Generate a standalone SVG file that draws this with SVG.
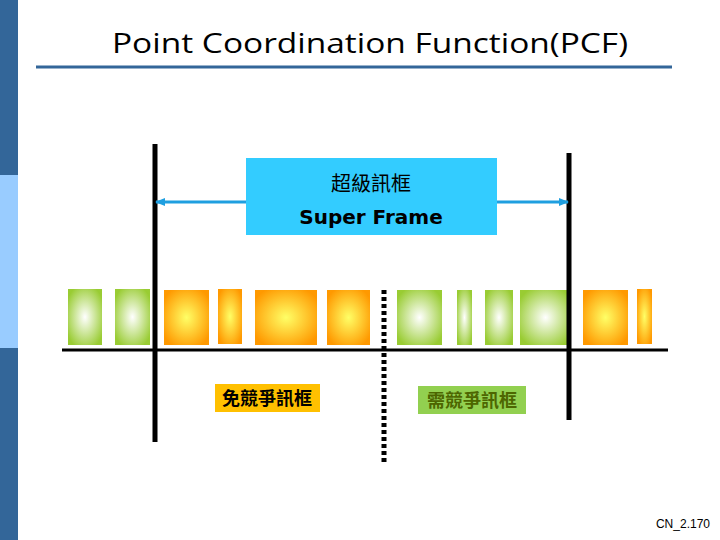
<svg xmlns="http://www.w3.org/2000/svg" width="720" height="540" viewBox="0 0 720 540">
<defs>
<radialGradient id="go" cx="0.5" cy="0.5" r="0.6"><stop offset="0" stop-color="#ffff66"/><stop offset="1" stop-color="#ff9900"/></radialGradient>
<radialGradient id="gg" cx="0.5" cy="0.5" r="0.6"><stop offset="0" stop-color="#ffffff"/><stop offset="1" stop-color="#99cc33"/></radialGradient>
<marker id="ah" markerWidth="10" markerHeight="8" refX="9" refY="4" orient="auto" markerUnits="userSpaceOnUse"><path d="M0,0 L10,4 L0,8 Z" fill="#1f9fe0"/></marker>
<style>
.o{fill:url(#go)} .g{fill:url(#gg)}
.cjk{font-family:"Liberation Sans","Noto Sans CJK TC",sans-serif}
</style>
</defs>
<rect width="720" height="540" fill="#fff"/>
<rect x="0" y="0" width="18" height="175" fill="#336699"/>
<rect x="0" y="175" width="18" height="173" fill="#99ccff"/>
<rect x="0" y="348" width="18" height="192" fill="#336699"/>
<text x="370" y="53" text-anchor="middle" font-family="Open Sans, sans-serif" font-weight="500" font-size="28" textLength="516" lengthAdjust="spacingAndGlyphs">Point Coordination Function(PCF)</text>
<line x1="36" y1="67" x2="672" y2="67" stroke="#336699" stroke-width="3"/>
<g id="frames">
<rect class="g" x="68" y="289" width="34" height="56"/>
<rect class="g" x="115" y="289" width="35" height="56"/>
<rect class="o" x="164" y="290" width="45" height="55"/>
<rect class="o" x="218" y="289" width="24" height="55"/>
<rect class="o" x="255" y="290" width="62" height="55"/>
<rect class="o" x="327" y="290" width="43" height="55"/>
<rect class="g" x="397" y="290" width="45" height="55"/>
<rect class="g" x="457" y="290" width="15" height="55"/>
<rect class="g" x="485" y="290" width="28" height="55"/>
<rect class="g" x="520" y="290" width="51" height="55"/>
<rect class="o" x="583" y="290" width="45" height="55"/>
<rect class="o" x="637" y="289" width="15" height="55"/>
</g>
<g id="connectors">
<line x1="62" y1="350" x2="668" y2="350" stroke="#000" stroke-width="3"/>
<line x1="155" y1="144" x2="155" y2="442" stroke="#000" stroke-width="5"/>
<line x1="569" y1="153" x2="569" y2="420" stroke="#000" stroke-width="5"/>
<line x1="384" y1="290" x2="384" y2="465" stroke="#000" stroke-width="5" stroke-dasharray="4,3"/>
<line x1="246" y1="202" x2="156" y2="202" stroke="#1f9fe0" stroke-width="3" marker-end="url(#ah)"/>
<line x1="497" y1="202" x2="568" y2="202" stroke="#1f9fe0" stroke-width="3" marker-end="url(#ah)"/>
</g>
<g id="superframe">
<rect x="246" y="158" width="251" height="77" fill="#33ccff"/>
<text x="371" y="191" text-anchor="middle" class="cjk" font-size="20">超級訊框</text>
<text x="371" y="224" text-anchor="middle" font-family="DejaVu Sans, sans-serif" font-weight="bold" font-size="20">Super Frame</text>
</g>
<g id="cfp">
<rect x="215" y="384" width="105" height="28" fill="#ffc000"/>
<text x="267" y="405" text-anchor="middle" class="cjk" font-weight="bold" font-size="18">免競爭訊框</text>
</g>
<g id="cp">
<rect x="418" y="386" width="108" height="28" fill="#92d050"/>
<text x="472" y="407" text-anchor="middle" class="cjk" font-weight="bold" font-size="18" fill="#4d6600">需競爭訊框</text>
</g>
<text x="710" y="528" text-anchor="end" font-family="Liberation Sans, sans-serif" font-size="12">CN_2.170</text>
</svg>
